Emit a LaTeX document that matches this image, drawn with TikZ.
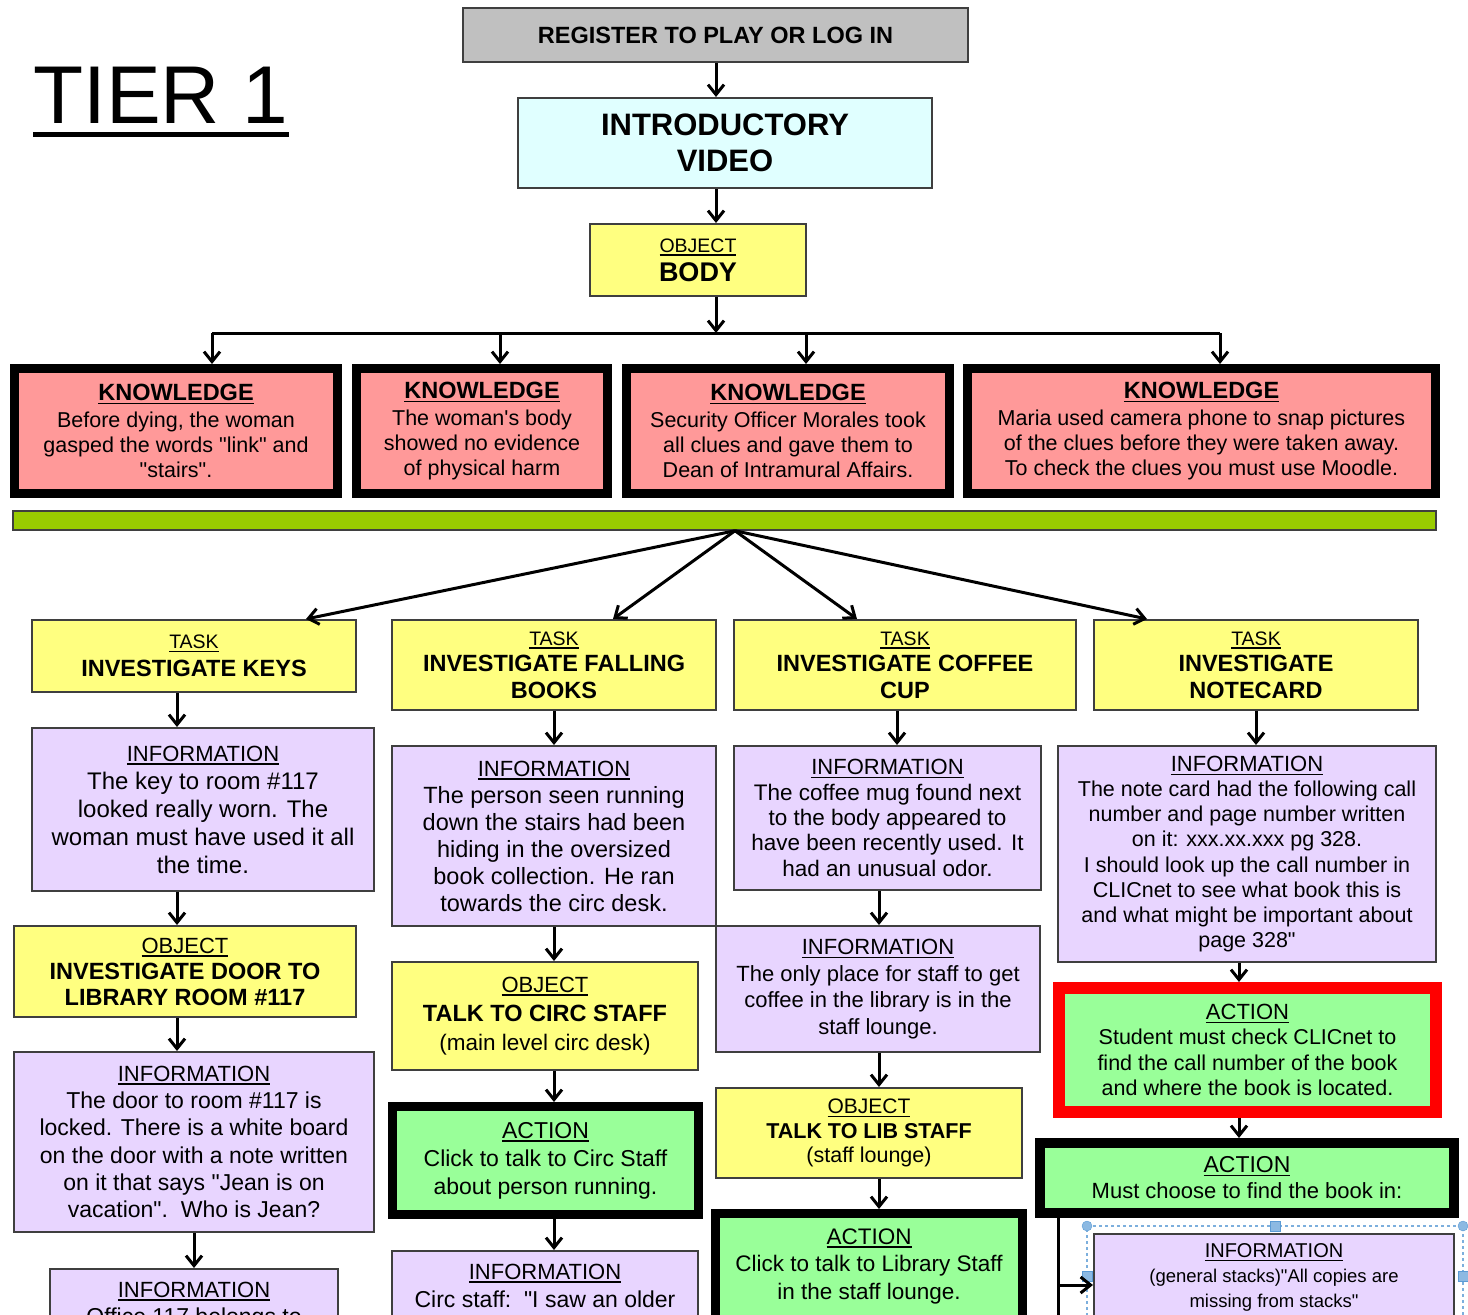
\documentclass[tikz,border=0pt]{standalone}
\usepackage{fontspec}
\setmainfont{Liberation Sans}[Ligatures=TeXOff]
\usetikzlibrary{arrows.meta,calc}

\definecolor{edge}{HTML}{3F3F3F}
\definecolor{regfill}{HTML}{C0C0C0}
\definecolor{vidfill}{HTML}{E0FFFF}
\definecolor{objfill}{HTML}{FFFF80}
\definecolor{knowfill}{HTML}{FF9999}
\definecolor{barfill}{HTML}{99CC00}
\definecolor{infofill}{HTML}{E8D5FF}
\definecolor{actfill}{HTML}{99FF99}
\definecolor{selblue}{HTML}{5B9BD5}

% underlined heading line of a box
\newcommand{\boxhead}[2]{{\fontsize{#1}{#1}\selectfont\setbox0\hbox{#2}\rlap{\rule[-3.5pt]{\wd0}{1.4pt}}\box0}}

\begin{document}
\begin{tikzpicture}[x=1pt,y=-1pt,
    box/.style={draw=edge, line width=2pt, align=center, inner sep=3pt},
    regbox/.style={box, fill=regfill},
    vidbox/.style={box, fill=vidfill},
    objbox/.style={box, fill=objfill},
    infobox/.style={box, fill=infofill},
    knowbox/.style={draw=black, line width=9pt, fill=knowfill, align=center, inner sep=2pt},
    actbox/.style={draw=black, line width=9pt, fill=actfill, align=center, inner sep=2pt},
    arr/.style={line width=3pt, -{Straight Barb[length=10pt,width=16pt]}},
    wire/.style={line width=3pt}]
\useasboundingbox (0,0) rectangle (1468,1315);
\clip (0,0) rectangle (1468,1315);

% title
\node[anchor=base west, inner sep=0pt, font=\fontsize{82}{82}\selectfont] (tier) at (33,123) {TIER 1};
\draw[line width=5pt] ([yshift=-11pt]tier.base west) -- ([yshift=-11pt]tier.base east);

% top of the tree
\node[regbox, minimum width=505, minimum height=54, font=\bfseries\fontsize{23.5}{27}\selectfont] (reg) at (715.5,35) {REGISTER TO PLAY OR LOG IN};
\node[vidbox, minimum width=414, minimum height=90, font=\bfseries\fontsize{31}{36}\selectfont] (intro) at (725,143) {INTRODUCTORY\\VIDEO};
\node[objbox, minimum width=216, minimum height=72, font=\fontsize{27}{29}\selectfont] (body) at (698,260) {\boxhead{19.5}{OBJECT}\\\textbf{BODY}};

% column lines
\coordinate (c0) at (716,0);
\coordinate (c1) at (177,0);
\coordinate (c1b) at (194,0);
\coordinate (c2) at (554,0);
\coordinate (c3) at (897,0);
\coordinate (c3b) at (879,0);
\coordinate (c4) at (1256,0);
\coordinate (c4b) at (1239,0);

\draw[arr] (reg.south -| c0) -- (intro.north -| c0);
\draw[arr] (intro.south -| c0) -- (body.north -| c0);

% knowledge
\node[knowbox, minimum width=323, minimum height=125, font=\fontsize{21.5}{25}\selectfont] (k1) at (176,431)
  {\boxhead{23.5}{\bfseries KNOWLEDGE}\\[2pt]Before dying, the woman\\gasped the words "link" and\\"stairs".};
\node[knowbox, minimum width=251, minimum height=125, font=\fontsize{21.5}{25}\selectfont] (k2) at (482,431)
  {\boxhead{23.5}{\bfseries KNOWLEDGE}\\[2pt]The woman's body\\showed no evidence\\of physical harm};
\node[knowbox, minimum width=323, minimum height=125, font=\fontsize{21.5}{25}\selectfont] (k3) at (788,431)
  {\boxhead{23.5}{\bfseries KNOWLEDGE}\\[2pt]Security Officer Morales took\\all clues and gave them to\\Dean of Intramural Affairs.};
\node[knowbox, minimum width=468, minimum height=125, font=\fontsize{21.5}{25}\selectfont] (k4) at (1201.5,431)
  {\boxhead{23.5}{\bfseries KNOWLEDGE}\\[2pt]Maria used camera phone to snap pictures\\of the clues before they were taken away.\\To check the clues you must use Moodle.};

\coordinate (hub) at (716,333);
\coordinate (kl) at (212,333);
\coordinate (kr) at (1220,333);
\draw[arr] (body.south -| c0) -- (hub);
\draw[wire] (kl) -- (kr);
\foreach \k/\x in {k1/212,k2/500,k3/806,k4/1220}
  \draw[arr] (\x,333) -- (\x,0 |- \k.north);

\node[draw=edge, line width=1.5pt, fill=barfill, minimum width=1423, minimum height=19, inner sep=0pt] (bar) at (724.5,520.5) {};

% tasks
\node[objbox, minimum width=324, minimum height=72, font=\fontsize{23.5}{28}\selectfont] (t1) at (194,656)
  {\boxhead{19.5}{TASK}\\\textbf{INVESTIGATE KEYS}};
\node[objbox, minimum width=324, minimum height=90, font=\fontsize{23.5}{26.5}\selectfont] (t2) at (554,665)
  {\boxhead{19.5}{TASK}\\\textbf{INVESTIGATE FALLING}\\\textbf{BOOKS}};
\node[objbox, minimum width=342, minimum height=90, font=\fontsize{23.5}{26.5}\selectfont] (t3) at (905,665)
  {\boxhead{19.5}{TASK}\\\textbf{INVESTIGATE COFFEE}\\\textbf{CUP}};
\node[objbox, minimum width=324, minimum height=90, font=\fontsize{23.5}{26.5}\selectfont] (t4) at (1256,665)
  {\boxhead{19.5}{TASK}\\\textbf{INVESTIGATE}\\\textbf{NOTECARD}};

\coordinate (fan) at ([xshift=10.5pt]bar.south);
\foreach \t/\dx in {t1/112,t2/59,t3/-48,t4/-109}
  \draw[arr] (fan) -- ([xshift=\dx pt]\t.north);

% first column
\node[infobox, minimum width=342, minimum height=163, font=\fontsize{24}{28}\selectfont] (i1) at (203,809.5)
  {\boxhead{22}{INFORMATION}\\The key to room \#117\\looked really worn. The\\woman must have used it all\\the time.};
\node[objbox, minimum width=342, minimum height=91, font=\fontsize{23.5}{26}\selectfont] (o1) at (185,971.5)
  {\boxhead{22}{OBJECT}\\\textbf{INVESTIGATE DOOR TO}\\\textbf{LIBRARY ROOM \#117}};
\node[infobox, minimum width=360, minimum height=180, font=\fontsize{23}{27.3}\selectfont] (i1b) at (194,1142)
  {\boxhead{22}{INFORMATION}\\The door to room \#117 is\\locked. There is a white board\\on the door with a note written\\on it that says "Jean is on\\vacation".\ \ Who is Jean?};
\node[infobox, anchor=north, minimum width=288, inner ysep=13pt, text depth=60pt, font=\fontsize{23}{27}\selectfont] (i1c) at (194,1268)
  {\boxhead{22}{INFORMATION}\\Office 117 belongs to};

\draw[arr] (t1.south -| c1) -- (i1.north -| c1);
\draw[arr] (i1.south -| c1) -- (o1.north -| c1);
\draw[arr] (o1.south -| c1) -- (i1b.north -| c1);
\draw[arr] (i1b.south -| c1b) -- (i1c.north -| c1b);

% second column
\node[infobox, minimum width=324, minimum height=180, font=\fontsize{23.5}{27}\selectfont] (i2) at (554,836)
  {\boxhead{22}{INFORMATION}\\The person seen running\\down the stairs had been\\hiding in the oversized\\book collection. He ran\\towards the circ desk.};
\node[objbox, minimum width=306, minimum height=108, font=\fontsize{22.5}{29}\selectfont] (o2) at (545,1016)
  {\boxhead{22}{OBJECT}\\\textbf{\fontsize{23.5}{29}\selectfont TALK TO CIRC STAFF}\\(main level circ desk)};
\node[actbox, minimum width=306, minimum height=108, font=\fontsize{23}{28}\selectfont] (a2) at (545.5,1160.5)
  {\boxhead{23}{ACTION}\\Click to talk to Circ Staff\\about person running.};
\node[infobox, anchor=north, minimum width=306, inner ysep=13pt, text depth=60pt, font=\fontsize{23}{28}\selectfont] (i2b) at (545,1250)
  {\boxhead{22}{INFORMATION}\\Circ staff:\ \ "I saw an older};

\draw[arr] (t2.south -| c2) -- (i2.north -| c2);
\draw[arr] (i2.south -| c2) -- (o2.north -| c2);
\draw[arr] (o2.south -| c2) -- (a2.north -| c2);
\draw[arr] (a2.south -| c2) -- (i2b.north -| c2);

% third column
\node[infobox, minimum width=307, minimum height=144, font=\fontsize{22.5}{25.3}\selectfont] (i3) at (887.5,818)
  {\boxhead{22}{INFORMATION}\\The coffee mug found next\\to the body appeared to\\have been recently used. It\\had an unusual odor.};
\node[infobox, minimum width=324, minimum height=126, font=\fontsize{22}{26.5}\selectfont] (i3b) at (878,989)
  {\boxhead{22}{INFORMATION}\\The only place for staff to get\\coffee in the library is in the\\staff lounge.};
\node[objbox, minimum width=306, minimum height=90, font=\fontsize{21.5}{24.5}\selectfont] (o3) at (869,1133)
  {\boxhead{21}{OBJECT}\\\textbf{TALK TO LIB STAFF}\\(staff lounge)};
\node[actbox, anchor=north, minimum width=307, inner ysep=15pt, text depth=60pt, font=\fontsize{22.5}{27.5}\selectfont] (a3) at (869,1209)
  {\boxhead{22.5}{ACTION}\\Click to talk to Library Staff\\in the staff lounge.};

\draw[arr] (t3.south -| c3) -- (i3.north -| c3);
\draw[arr] (i3.south -| c3b) -- (i3b.north -| c3b);
\draw[arr] (i3b.south -| c3b) -- (o3.north -| c3b);
\draw[arr] (o3.south -| c3b) -- (a3.north -| c3b);

% fourth column
\node[infobox, minimum width=378, minimum height=216, font=\fontsize{21.5}{25.1}\selectfont] (i4) at (1247,854)
  {\boxhead{22}{INFORMATION}\\The note card had the following call\\number and page number written\\on it: xxx.xx.xxx pg 328.\\I should look up the call number in\\CLICnet to see what book this is\\and what might be important about\\page 328"};
\node[actbox, draw=red, line width=12pt, minimum width=377, minimum height=124, font=\fontsize{21.5}{25.3}\selectfont] (chk) at (1247.5,1050)
  {\boxhead{22}{ACTION}\\Student must check CLICnet to\\find the call number of the book\\and where the book is located.};
\node[actbox, line width=10pt, minimum width=414, minimum height=70, font=\fontsize{22}{26}\selectfont] (a4) at (1247,1178)
  {\boxhead{23}{ACTION}\\Must choose to find the book in:};

% selection frame round the last box
\draw[selblue!80, dashed, line width=1.5pt] (1087,1340) -- (1087,1226) -- (1463,1226) -- (1463,1340);
\node[infobox, anchor=north, minimum width=360, inner ysep=10pt, text depth=60pt, font=\fontsize{18.5}{25}\selectfont] (i5) at (1274,1233)
  {\boxhead{20}{INFORMATION}\\(general stacks)"All copies are\\missing from stacks"};
\filldraw[fill=selblue!70, draw=selblue] (1087,1226) circle (5pt) (1463,1226) circle (5pt);
\filldraw[fill=selblue!70, draw=selblue] (1270,1221) rectangle (1280,1231)
  (1082,1271) rectangle (1092,1281) (1458,1271) rectangle (1468,1281);

\draw[arr] (i4.south -| c4b) -- (chk.north -| c4b);
\draw[arr] (t4.south -| c4) -- (i4.north -| c4);
\draw[arr] (chk.south -| c4b) -- (a4.north -| c4b);

\coordinate (trunk) at (1058,1340);
\coordinate (tap) at (1058,1285);
\draw[wire] (a4.south -| trunk) -- (trunk);
\draw[arr] (tap) -- (tap -| i5.west);
\end{tikzpicture}
\end{document}
